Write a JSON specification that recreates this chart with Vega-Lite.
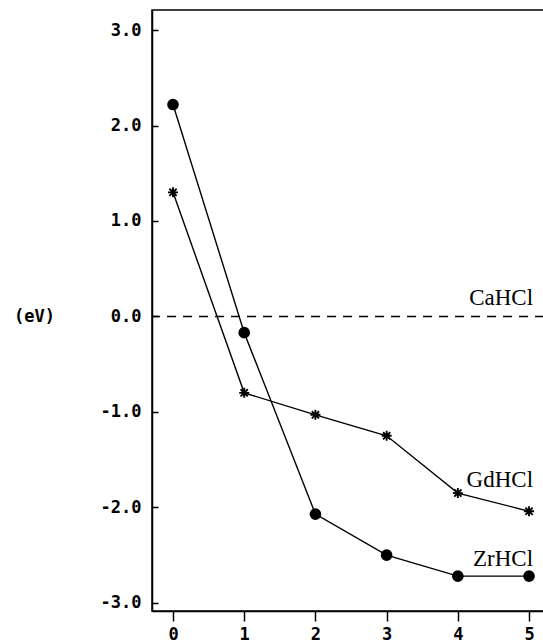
{
  "$schema": "https://vega.github.io/schema/vega-lite/v6.json",
  "width": 392,
  "height": 601,
  "autosize": "none",
  "padding": {"left": 152, "top": 10, "right": 0, "bottom": 31},
  "background": "white",
  "config": {
    "view": {"stroke": "black", "strokeWidth": 1.5},
    "locale": {"number": {"decimal": ".", "thousands": ",", "grouping": [3], "currency": ["$", ""], "minus": "-"}},
    "axis": {
      "grid": false,
      "domainColor": "black",
      "domainWidth": 1.5,
      "tickColor": "black",
      "tickWidth": 1.5,
      "labelColor": "black",
      "labelFont": "DejaVu Sans Mono",
      "labelFontSize": 17,
      "labelFontWeight": "bold",
      "titleColor": "black",
      "titleFont": "DejaVu Sans Mono",
      "titleFontSize": 17,
      "titleFontWeight": "bold"
    }
  },
  "datasets": {
    "levels": [
      {"n": 0, "energy": 2.22, "molecule": "ZrHCl"},
      {"n": 1, "energy": -0.17, "molecule": "ZrHCl"},
      {"n": 2, "energy": -2.07, "molecule": "ZrHCl"},
      {"n": 3, "energy": -2.5, "molecule": "ZrHCl"},
      {"n": 4, "energy": -2.72, "molecule": "ZrHCl"},
      {"n": 5, "energy": -2.72, "molecule": "ZrHCl"},
      {"n": 0, "energy": 1.3, "molecule": "GdHCl"},
      {"n": 1, "energy": -0.8, "molecule": "GdHCl"},
      {"n": 2, "energy": -1.03, "molecule": "GdHCl"},
      {"n": 3, "energy": -1.25, "molecule": "GdHCl"},
      {"n": 4, "energy": -1.85, "molecule": "GdHCl"},
      {"n": 5, "energy": -2.04, "molecule": "GdHCl"}
    ],
    "reference": [{"molecule": "CaHCl", "energy": 0}],
    "names": [
      {"molecule": "CaHCl", "n": 5.056, "energy": 0.12},
      {"molecule": "GdHCl", "n": 5.056, "energy": -1.786},
      {"molecule": "ZrHCl", "n": 5.056, "energy": -2.61}
    ]
  },
  "layer": [
    {
      "data": {"name": "reference"},
      "mark": {"type": "rule", "color": "black", "strokeWidth": 1.6, "strokeDash": [9, 7]},
      "encoding": {
        "y": {"field": "energy", "type": "quantitative", "scale": {"domain": [-3.085, 3.21]}}
      }
    },
    {
      "data": {"name": "levels"},
      "mark": {"type": "line", "color": "black", "strokeWidth": 1.4},
      "encoding": {
        "x": {
          "field": "n", "type": "quantitative",
          "scale": {"domain": [-0.295, 5.21], "nice": false, "zero": false},
          "axis": {"values": [0, 1, 2, 3, 4, 5], "format": "d", "title": null, "tickSize": 10, "labelPadding": 5}
        },
        "y": {
          "field": "energy", "type": "quantitative",
          "scale": {"domain": [-3.085, 3.21], "nice": false, "zero": false},
          "axis": {
            "values": [-3, -2, -1, 0, 1, 2, 3], "format": ".1f",
            "tickSize": -6, "labelPadding": 17,
            "title": "(eV)", "titleAngle": 0, "titleAlign": "center", "titleBaseline": "middle",
            "titleX": -118, "titleY": 306
          }
        },
        "detail": {"field": "molecule"}
      }
    },
    {
      "data": {"name": "levels"},
      "mark": {"type": "point", "filled": true, "fill": "black", "stroke": "black", "strokeWidth": 1.9, "opacity": 1},
      "encoding": {
        "x": {"field": "n", "type": "quantitative"},
        "y": {"field": "energy", "type": "quantitative"},
        "shape": {
          "field": "molecule", "type": "nominal", "legend": null,
          "scale": {"domain": ["ZrHCl", "GdHCl"], "range": ["circle", "M-1,0L1,0M0,-1L0,1M-0.72,-0.72L0.72,0.72M-0.72,0.72L0.72,-0.72"]}
        },
        "size": {
          "field": "molecule", "type": "nominal", "legend": null,
          "scale": {"domain": ["ZrHCl", "GdHCl"], "range": [95, 100]}
        }
      }
    },
    {
      "data": {"name": "names"},
      "mark": {"type": "text", "font": "Liberation Serif", "fontSize": 23, "align": "right", "baseline": "alphabetic", "color": "black"},
      "encoding": {
        "x": {"field": "n", "type": "quantitative"},
        "y": {"field": "energy", "type": "quantitative"},
        "text": {"field": "molecule"}
      }
    }
  ]
}
